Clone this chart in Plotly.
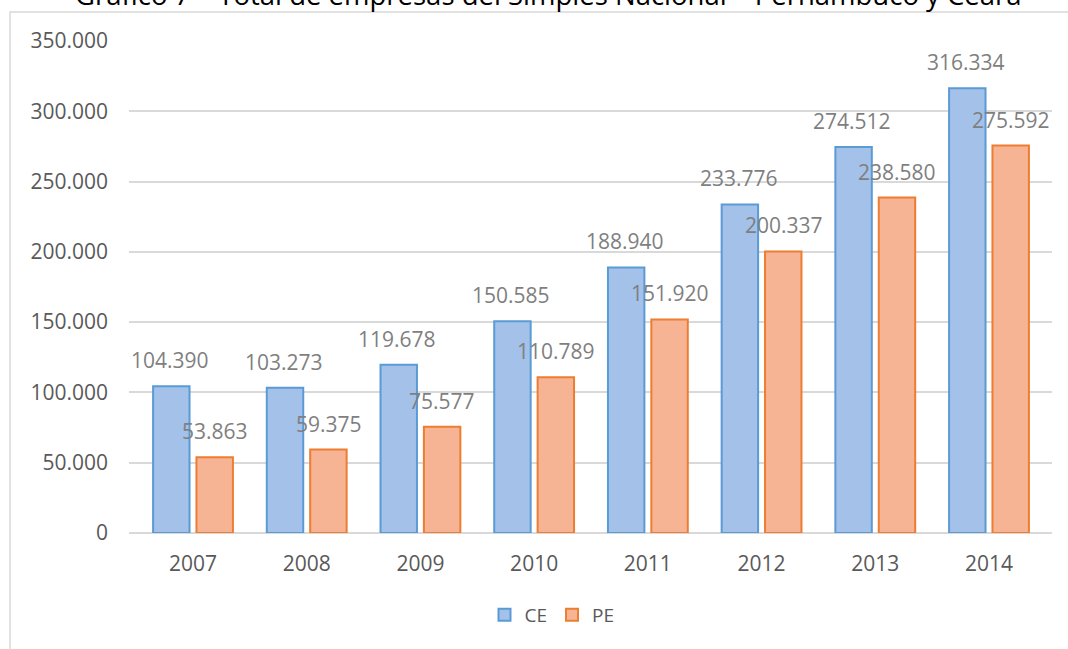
import plotly.graph_objects as go

years = ["2007", "2008", "2009", "2010", "2011", "2012", "2013", "2014"]
ce = [104390, 103273, 119678, 150585, 188940, 233776, 274512, 316334]
pe = [53863, 59375, 75577, 110789, 151920, 200337, 238580, 275592]
y_ticks = [0, 50000, 100000, 150000, 200000, 250000, 300000, 350000]
y_tick_text = ["0", "50.000", "100.000", "150.000", "200.000", "250.000", "300.000", "350.000"]
title_text = "Gráfico 7 – Total de empresas del Simples Nacional – Pernambuco y Ceará"

def fmt(v):
    return f"{v:,}".replace(",", ".")

FONT = "Open Sans"
L, R, T, B = 129, 16, 41, 116
W, H = 1068, 649
PW, PH = W - L - R, H - T - B

def px_x(p):
    return (p - L) / PW

def px_y(p):
    return (H - B - p) / PH

fig = go.Figure()
fig.add_trace(go.Bar(name="CE", x=years, y=ce,
                     marker=dict(color="#A3C1E9", line=dict(color="#5B9BD5", width=2))))
fig.add_trace(go.Bar(name="PE", x=years, y=pe,
                     marker=dict(color="#F6B495", line=dict(color="#ED7D31", width=2))))

annotations = []
for i, v in enumerate(ce):
    annotations.append(dict(x=i, y=v, xref="x", yref="y", text=fmt(v), showarrow=False,
                            xshift=-23, yanchor="bottom", yshift=10,
                            font=dict(family=FONT, size=21, color="#7F7F7F")))
for i, v in enumerate(pe):
    annotations.append(dict(x=i, y=v, xref="x", yref="y", text=fmt(v), showarrow=False,
                            xshift=22, yanchor="bottom", yshift=10,
                            font=dict(family=FONT, size=21, color="#7F7F7F")))
annotations.append(dict(x=px_x(548), y=px_y(-5), xref="paper", yref="paper",
                        text=title_text, showarrow=False, xanchor="center", yanchor="middle",
                        font=dict(family=FONT, size=27.5, color="#000000")))

fig.update_layout(
    width=W, height=H,
    margin=dict(l=L, r=R, t=T, b=B, autoexpand=False),
    paper_bgcolor="white", plot_bgcolor="white",
    barmode="group", bargap=0.237, bargroupgap=0.16,
    font=dict(family=FONT, size=19, color="#595959"),
    showlegend=True,
    legend=dict(orientation="h", x=px_x(552), xanchor="center",
                y=px_y(615), yanchor="middle", itemwidth=30,
                font=dict(family=FONT, size=19, color="#595959")),
    annotations=annotations,
    shapes=[dict(type="rect", xref="paper", yref="paper",
                 x0=px_x(10), x1=px_x(1100),
                 y0=px_y(700), y1=px_y(12),
                 line=dict(color="#D9D9D9", width=1.5), fillcolor="rgba(0,0,0,0)", layer="below")],
)
fig.update_xaxes(type="category", showline=False, showgrid=False, ticks="",
                 ticklabelstandoff=16,
                 tickfont=dict(size=21, color="#595959"))
fig.update_yaxes(range=[0, 350000], tickvals=y_ticks, ticktext=y_tick_text,
                 showgrid=True, gridcolor="#D9D9D9", gridwidth=1.5,
                 zeroline=True, zerolinecolor="#D9D9D9", zerolinewidth=1.5,
                 ticks="", ticklabelstandoff=20,
                 tickfont=dict(size=21, color="#595959"))

fig.write_html("out.html", config={"displayModeBar": False},
               post_script="document.body.style.margin='0';")
